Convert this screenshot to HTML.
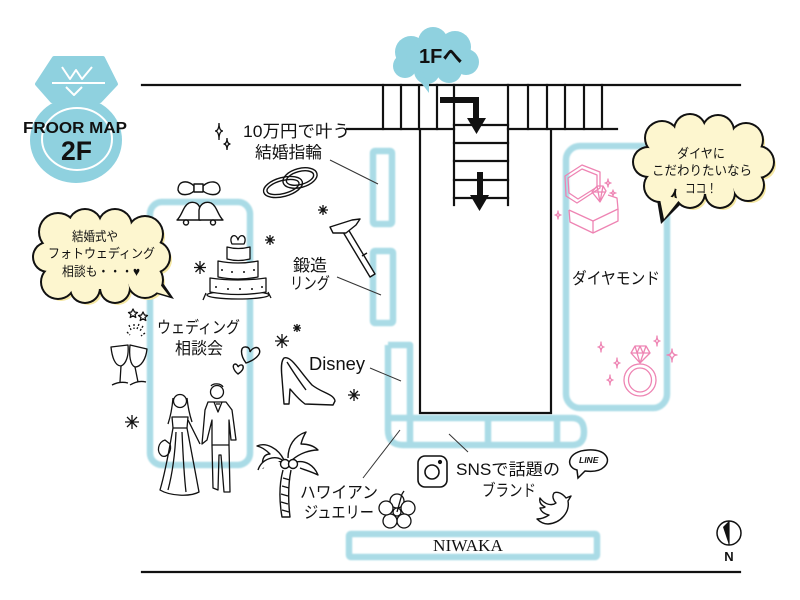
<!DOCTYPE html>
<html><head><meta charset="utf-8"><style>
html,body{margin:0;padding:0;background:#fff;}
svg{display:block;}
text{font-family:"Liberation Sans","Noto Sans CJK JP",sans-serif;fill:#111;}
</style></head><body>
<svg width="800" height="600" viewBox="0 0 800 600" xmlns="http://www.w3.org/2000/svg">
<defs>
<filter id="bl" x="-10%" y="-10%" width="120%" height="120%"><feGaussianBlur stdDeviation="0.9"/></filter>
</defs>
<rect width="800" height="600" fill="#fff"/>

<!-- Blue store outlines -->
<g fill="none" stroke="#a6dae5" stroke-width="6.5" filter="url(#bl)" stroke-linejoin="round" opacity="0.95">
 <rect x="150" y="202" width="100" height="263" rx="12"/>
 <rect x="566" y="146" width="101" height="262" rx="14"/>
 <rect x="373" y="151" width="19" height="73" rx="2"/>
 <rect x="373" y="251" width="20" height="72" rx="2"/>
 <path d="M388,345 H410 V445 M388,345 V430 Q388,445 403,445 H572 Q584,445 584,432 Q584,418 572,418 H388 M488,418 V445 M557,418 V445"/>
 <rect x="349" y="534" width="248" height="23" rx="2"/>
</g>

<!-- Building lines -->
<g stroke="#111" stroke-width="2.2" fill="none" stroke-linecap="square">
 <line x1="142" y1="85" x2="740" y2="85"/>
 <line x1="142" y1="572" x2="740" y2="572"/>
 <line x1="347" y1="129" x2="454" y2="129"/>
 <line x1="508" y1="129" x2="617" y2="129"/>
 <line x1="383" y1="85" x2="383" y2="129"/>
 <line x1="401" y1="85" x2="401" y2="129"/>
 <line x1="419" y1="85" x2="419" y2="129"/>
 <line x1="437" y1="85" x2="437" y2="129"/>
 <line x1="528" y1="85" x2="528" y2="129"/>
 <line x1="547" y1="85" x2="547" y2="129"/>
 <line x1="565" y1="85" x2="565" y2="129"/>
 <line x1="584" y1="85" x2="584" y2="129"/>
 <line x1="602" y1="85" x2="602" y2="129"/>
 <line x1="454" y1="85" x2="454" y2="205"/>
 <line x1="508" y1="85" x2="508" y2="205"/>
 <line x1="454" y1="125" x2="508" y2="125"/>
 <line x1="454" y1="143" x2="508" y2="143"/>
 <line x1="454" y1="161" x2="508" y2="161"/>
 <line x1="454" y1="180" x2="508" y2="180"/>
 <line x1="454" y1="198" x2="508" y2="198"/>
 <path d="M420,130 V413 H551 V130"/>
</g>

<!-- Arrows -->
<g fill="#111" stroke="none">
 <rect x="440" y="97" width="39" height="6"/>
 <rect x="473" y="97" width="6" height="22"/>
 <polygon points="467,118 486,118 476.5,134"/>
 <rect x="477" y="172" width="6" height="24"/>
 <polygon points="470,195 489,195 479.5,211"/>
</g>

<!-- 1F bubble -->
<g fill="#8fd1df">
 <circle cx="411" cy="52" r="16"/><circle cx="433" cy="42" r="15"/><circle cx="455" cy="47" r="16"/>
 <circle cx="466" cy="62" r="13"/><circle cx="449" cy="70" r="13"/><circle cx="427" cy="71" r="13"/>
 <circle cx="405" cy="66" r="12"/><ellipse cx="436" cy="57" rx="30" ry="17"/>
 <polygon points="416,76 429,79 429,93"/>
</g>
<text x="419" y="63" font-size="20" font-weight="bold">1Fへ</text>

<!-- Logo -->
<g>
 <polygon points="54,58 103,58 116,84 100,101 52,101 37,84" fill="#8fd1df" stroke="#8fd1df" stroke-width="4" stroke-linejoin="round"/>
 <ellipse cx="76" cy="140" rx="46" ry="43" fill="#8fd1df"/>
 <g stroke="#fff" stroke-width="2" fill="none" stroke-linejoin="round">
  <line x1="52" y1="83" x2="105" y2="83"/>
  <polyline points="62,67 70,79 76,70 82,79 92,67"/>
  <polyline points="66,87 74,95 82,87"/>
  <ellipse cx="77" cy="139" rx="35" ry="31"/>
 </g>
 <text x="23" y="133" font-size="16" font-weight="bold" textLength="104" lengthAdjust="spacingAndGlyphs">FROOR MAP</text>
 <text x="61" y="160" font-size="27" font-weight="bold" textLength="31" lengthAdjust="spacingAndGlyphs">2F</text>
</g>

<!-- Left yellow bubble -->
<g transform="translate(3,3)" fill="#f5e7a2">
 <circle cx="58" cy="232" r="18"/><circle cx="85" cy="226" r="16"/><circle cx="115" cy="226" r="16"/>
 <circle cx="145" cy="234" r="17"/><circle cx="154" cy="257" r="15"/><circle cx="145" cy="280" r="17"/>
 <circle cx="115" cy="288" r="14"/><circle cx="85" cy="288" r="14"/><circle cx="58" cy="282" r="16"/>
 <circle cx="48" cy="257" r="14"/>
</g>
<g fill="#111">
 <circle cx="58" cy="232" r="20"/><circle cx="85" cy="226" r="18"/><circle cx="115" cy="226" r="18"/>
 <circle cx="145" cy="234" r="19"/><circle cx="154" cy="257" r="17"/><circle cx="145" cy="280" r="19"/>
 <circle cx="115" cy="288" r="16"/><circle cx="85" cy="288" r="16"/><circle cx="58" cy="282" r="18"/>
 <circle cx="48" cy="257" r="16"/>
 <polygon points="140,289 161,280 174,299"/>
</g>
<g fill="#fdf6cf">
 <circle cx="58" cy="232" r="18"/><circle cx="85" cy="226" r="16"/><circle cx="115" cy="226" r="16"/>
 <circle cx="145" cy="234" r="17"/><circle cx="154" cy="257" r="15"/><circle cx="145" cy="280" r="17"/>
 <circle cx="115" cy="288" r="14"/><circle cx="85" cy="288" r="14"/><circle cx="58" cy="282" r="16"/>
 <circle cx="48" cy="257" r="14"/>
 <ellipse cx="100" cy="257" rx="52" ry="32"/>
 <polygon points="142,288 159,283 169,296"/>
</g>
<g font-size="13">
 <text x="72" y="241" textLength="46" lengthAdjust="spacingAndGlyphs">結婚式や</text>
 <text x="48" y="258" textLength="107" lengthAdjust="spacingAndGlyphs">フォトウェディング</text>
 <text x="62" y="276" textLength="78" lengthAdjust="spacingAndGlyphs">相談も・・・♥</text>
</g>

<!-- Right yellow bubble -->
<g transform="translate(3,3)" fill="#f5e7a2">
 <circle cx="662" cy="138" r="16"/><circle cx="690" cy="130" r="15"/><circle cx="718" cy="131" r="15"/>
 <circle cx="746" cy="140" r="16"/><circle cx="758" cy="162" r="15"/><circle cx="748" cy="185" r="15"/>
 <circle cx="720" cy="193" r="14"/><circle cx="690" cy="193" r="14"/><circle cx="660" cy="186" r="15"/>
 <circle cx="648" cy="162" r="14"/>
</g>
<g fill="#111">
 <circle cx="662" cy="138" r="18"/><circle cx="690" cy="130" r="17"/><circle cx="718" cy="131" r="17"/>
 <circle cx="746" cy="140" r="18"/><circle cx="758" cy="162" r="17"/><circle cx="748" cy="185" r="17"/>
 <circle cx="720" cy="193" r="16"/><circle cx="690" cy="193" r="16"/><circle cx="660" cy="186" r="17"/>
 <circle cx="648" cy="162" r="16"/>
 <polygon points="656,194 684,201 661,224"/>
</g>
<g fill="#fdf6cf">
 <circle cx="662" cy="138" r="16"/><circle cx="690" cy="130" r="15"/><circle cx="718" cy="131" r="15"/>
 <circle cx="746" cy="140" r="16"/><circle cx="758" cy="162" r="15"/><circle cx="748" cy="185" r="15"/>
 <circle cx="720" cy="193" r="14"/><circle cx="690" cy="193" r="14"/><circle cx="660" cy="186" r="15"/>
 <circle cx="648" cy="162" r="14"/>
 <ellipse cx="704" cy="162" rx="52" ry="32"/>
 <polygon points="659,194 680,199 664,219"/>
</g>
<g font-size="13">
 <text x="677" y="158" textLength="48" lengthAdjust="spacingAndGlyphs">ダイヤに</text>
 <text x="652" y="175" textLength="100" lengthAdjust="spacingAndGlyphs">こだわりたいなら</text>
 <text x="685" y="193" textLength="32" lengthAdjust="spacingAndGlyphs">ココ！</text>
</g>

<!-- Labels -->
<g font-size="16.5">
 <text x="243" y="137" font-size="17" textLength="107" lengthAdjust="spacingAndGlyphs">10万円で叶う</text>
 <text x="255" y="158" textLength="67" lengthAdjust="spacingAndGlyphs">結婚指輪</text>
 <text x="293" y="271" textLength="34" lengthAdjust="spacingAndGlyphs">鍛造</text>
 <text x="290" y="289" textLength="40" lengthAdjust="spacingAndGlyphs">リング</text>
 <text x="309" y="370" font-size="18" textLength="56" lengthAdjust="spacingAndGlyphs">Disney</text>
 <text x="157" y="333" textLength="83" lengthAdjust="spacingAndGlyphs">ウェディング</text>
 <text x="175" y="354" textLength="48" lengthAdjust="spacingAndGlyphs">相談会</text>
 <text x="572" y="284" textLength="88" lengthAdjust="spacingAndGlyphs">ダイヤモンド</text>
 <text x="456" y="475" textLength="104" lengthAdjust="spacingAndGlyphs">SNSで話題の</text>
 <text x="482" y="496" textLength="54" lengthAdjust="spacingAndGlyphs">ブランド</text>
 <text x="300" y="498" textLength="78" lengthAdjust="spacingAndGlyphs">ハワイアン</text>
 <text x="304" y="518" textLength="70" lengthAdjust="spacingAndGlyphs">ジュエリー</text>
</g>
<text x="433" y="551" font-size="17" style="font-family:'Liberation Serif',serif" textLength="70" lengthAdjust="spacingAndGlyphs">NIWAKA</text>

<!-- Leader lines -->
<g stroke="#333" stroke-width="1">
 <line x1="330" y1="160" x2="378" y2="184"/>
 <line x1="337" y1="277" x2="381" y2="295"/>
 <line x1="370" y1="368" x2="401" y2="381"/>
 <line x1="400" y1="430" x2="363" y2="478"/>
 <line x1="449" y1="434" x2="468" y2="452"/>
</g>

<!-- Sparkles (outline 4-point) -->
<g fill="none" stroke="#111" stroke-width="1.3">
 <path d="M219,123 Q219,131 223,131 Q219,131 219,140 Q219,131 215,131 Q219,131 219,123 Z"/>
 <path d="M227,138 Q227,144 230.5,144 Q227,144 227,150 Q227,144 223.5,144 Q227,144 227,138 Z"/>
</g>

<!-- Asterisk stars -->
<g stroke="#111" stroke-width="1.3">
 <path d="M200,261 V274 M194,267.5 H206 M195.5,263 L204.5,272 M204.5,263 L195.5,272"/>
 <path d="M270,235 V245 M265,240 H275 M266.5,236.5 L273.5,243.5 M273.5,236.5 L266.5,243.5"/>
 <path d="M323,205 V215 M318,210 H328 M319.5,206.5 L326.5,213.5 M326.5,206.5 L319.5,213.5"/>
 <path d="M297,324 V332 M293,328 H301 M294,325 L300,331 M300,325 L294,331"/>
 <path d="M282,334 V348 M275,341 H289 M277,336 L287,346 M287,336 L277,346"/>
 <path d="M354,389 V401 M348,395 H360 M350,391 L358,399 M358,391 L350,399"/>
 <path d="M132,415 V429 M125,422 H139 M127,417 L137,427 M137,417 L127,427"/>
</g>

<!-- Bow & bells -->
<g stroke="#111" stroke-width="1.4" fill="#fff" stroke-linejoin="round">
 <path d="M194,186 C188,180 178,180 178,190 C180,197 190,195 194,191 Z"/>
 <path d="M203,186 C209,180 220,180 220,190 C218,197 208,195 203,191 Z"/>
 <rect x="194" y="184" width="9" height="8"/>
 <path d="M177,220 C182,216 183,206 189,203 C195,201 200,204 200,210 L201,220 Z"/>
 <path d="M199,220 L199,210 C200,204 205,201 211,203 C217,206 218,216 223,220 Z"/>
 <circle cx="186" cy="222.5" r="2.5"/><circle cx="213" cy="222.5" r="2.5"/>
</g>

<!-- Cake -->
<g stroke="#111" stroke-width="1.3" fill="#fff" stroke-linejoin="round">
 <ellipse cx="238" cy="295" rx="31" ry="4"/>
 <path d="M210,278 V292 Q238,297 266,292 V278 Q238,282 210,278 Z"/>
 <path d="M218,261 V277 Q238,281 258,277 V261 Q238,265 218,261 Z"/>
 <path d="M227,247 V259 Q238,262 250,259 V247 Q238,250 227,247 Z"/>
 <path d="M232,244 C228,236 236,232 238,240 C240,232 248,236 244,244 Z"/>
 <path d="M206,293 L203,300 M268,292 L271,298"/>
 <g fill="#111" stroke="none">
  <circle cx="222" cy="270" r="1"/><circle cx="232" cy="272" r="1"/><circle cx="244" cy="272" r="1"/><circle cx="254" cy="270" r="1"/>
  <circle cx="216" cy="287" r="1"/><circle cx="228" cy="289" r="1"/><circle cx="240" cy="289" r="1"/><circle cx="252" cy="289" r="1"/><circle cx="262" cy="287" r="1"/>
 </g>
</g>

<!-- Rings -->
<g stroke="#111" stroke-width="1.4" fill="none">
 <ellipse cx="283" cy="187" rx="20" ry="9.5" transform="rotate(-15 283 187)"/>
 <ellipse cx="283" cy="187" rx="16.5" ry="6.5" transform="rotate(-15 283 187)"/>
 <ellipse cx="300" cy="178" rx="17.5" ry="9.5" transform="rotate(-15 300 178)"/>
 <ellipse cx="300" cy="178" rx="14" ry="6.5" transform="rotate(-15 300 178)"/>
</g>

<!-- Hammer -->
<g stroke="#111" stroke-width="1.4" fill="#fff" stroke-linejoin="round">
 <polygon points="343,232 348,229 375,274 370,277"/>
 <polygon points="330,227 352,220 360,219 356,225 346,233 333,233"/>
 <line x1="362" y1="256" x2="367" y2="253"/>
</g>

<!-- Champagne glasses -->
<g stroke="#111" stroke-width="1.3" fill="none" stroke-linejoin="round">
 <path d="M111,347 L128,345 C129,356 126,364 121,366 C115,366 112,357 111,347 Z"/>
 <path d="M121,366 L120,382 M112,385 Q120,381 128,383"/>
 <path d="M130,345 L147,349 C146,359 141,367 135,367 C130,365 129,355 130,345 Z"/>
 <path d="M135,367 L138,382 M130,385 Q138,380 146,382"/>
 <path d="M129,325 L131,330 M134,324 L134,329 M139,324 L137,329 M143,326 L140,331 M127,332 L130,335 M145,333 L141,336" stroke-dasharray="2 1.5"/>
 <path d="M133,309 L134.5,312 L137.5,312.5 L135,314.5 L135.8,317.5 L133,315.8 L130.2,317.5 L131,314.5 L128.5,312.5 L131.5,312 Z"/>
 <path d="M143,312 L144.5,315 L147.5,315.5 L145,317.5 L145.8,320.5 L143,318.8 L140.2,320.5 L141,317.5 L138.5,315.5 L141.5,315 Z"/>
</g>

<!-- Hearts -->
<g stroke="#111" stroke-width="1.4" fill="none">
 <path d="M246,363 C240,355 240,346 246,347 C249,347 250,350 250,352 C252,348 257,346 259,349 C262,354 255,360 246,363 Z"/>
 <path d="M238,374 C233,370 232,365 235,364 C237,364 238,366 238,367 C239,365 242,364 243,366 C244,369 241,372 238,374 Z"/>
</g>

<!-- Shoe -->
<g stroke="#111" stroke-width="1.4" fill="#fff" stroke-linejoin="round">
 <path d="M284,358 C291,355 300,372 312,385 C322,393 334,394 335,401 L333,405 L305,404 C297,398 293,392 290,389 L289,404 L284,404 L282,378 C281,368 281,361 284,358 Z"/>
 <path d="M287,362 C292,370 300,382 306,390"/>
</g>

<!-- Couple -->
<g stroke="#111" stroke-width="1.3" fill="none" stroke-linejoin="round">
 <circle cx="180" cy="401" r="6.5"/>
 <path d="M173,398 C172,410 170,418 168,424 M187,398 C188,408 190,416 192,422"/>
 <path d="M172,417 L188,417 L187,428 L173,428 Z"/>
 <path d="M173,428 C170,445 166,470 160,490 C170,496 190,497 199,492 C195,470 190,445 187,428"/>
 <path d="M176,432 C175,455 172,475 168,490 M182,432 C183,455 184,475 186,492"/>
 <path d="M165,440 C158,442 156,452 162,456 C168,458 172,450 170,444 Z"/>
 <path d="M188,420 L200,444"/>
 <circle cx="217" cy="392" r="6.5"/>
 <path d="M211,386 C213,383 221,383 223,387"/>
 <path d="M208,402 L226,402 L232,410 L236,440 L231,440 L229,420 L229,445 L212,445 L212,420 L207,440 L202,444 L205,410 Z"/>
 <path d="M214,402 L218,412 L222,402 M216,404 L220,404"/>
 <path d="M212,445 L213,488 L218,490 L219,455 L221,455 L224,492 L230,492 L229,445"/>
</g>

<!-- Palm -->
<g stroke="#111" stroke-width="1.4" fill="#fff" stroke-linejoin="round">
 <path d="M283,470 C279,485 279,500 282,517 L290,517 C288,500 288,485 291,470"/>
 <path d="M283,478 L290,480 M282,486 L289,488 M281,494 L288,496 M281,502 L288,504 M282,510 L289,512"/>
 <path d="M284,460 C278,448 266,442 257,446 C262,447 266,450 270,454 C265,454 261,458 263,468 C267,461 275,458 283,463"/>
 <path d="M288,458 C288,446 294,436 306,432 C303,437 302,440 301,444 C308,444 314,446 318,450 C310,450 300,453 292,460"/>
 <path d="M296,462 C305,460 314,465 318,475 C312,472 305,470 300,468"/>
 <path d="M282,460 C276,455 262,458 258,470"/>
 <circle cx="285" cy="464" r="4.5"/><circle cx="293" cy="464" r="4.5"/>
</g>

<!-- Hibiscus -->
<g stroke="#111" stroke-width="1.3" fill="#fff">
 <circle cx="397" cy="501" r="7"/><circle cx="408" cy="508" r="7"/><circle cx="404" cy="521" r="7"/>
 <circle cx="390" cy="521" r="7"/><circle cx="386" cy="508" r="7"/>
 <circle cx="397" cy="512" r="4"/>
 <path d="M397,512 L402,494 M402,494 L404,491"/>
</g>

<!-- Instagram -->
<g stroke="#111" stroke-width="1.6" fill="none">
 <rect x="418" y="456" width="29" height="31" rx="7"/>
 <circle cx="432" cy="472" r="7"/>
 <circle cx="440" cy="462" r="1.3" fill="#111"/>
</g>

<!-- LINE bubble -->
<g stroke="#111" stroke-width="1.5" fill="#fff">
 <path d="M577,470 C565,467 567,451 588,450 C606,449 612,460 604,467 C600,471 593,472 585,471 L578,478 Z"/>
</g>
<text x="579" y="463" font-size="8.5" font-weight="bold" font-style="italic">LINE</text>

<!-- Twitter bird -->
<g stroke="#111" stroke-width="1.4" fill="#fff" stroke-linejoin="round">
 <path d="M540,498 C545,505 552,506 556,503 C553,500 552,496 554,493 C558,491 563,494 566,498 L571,496 L568,501 C570,512 561,523 548,524 C543,524 540,522 537,519 C542,519 546,517 549,515 C544,514 541,511 540,508 C542,508 544,508 545,507 C541,505 539,502 540,498 Z"/>
</g>

<!-- Compass -->
<g>
 <circle cx="729" cy="533" r="12" stroke="#111" stroke-width="1.5" fill="#fff"/>
 <polygon points="729,521 723,527 729,545" fill="#111"/>
 <line x1="729" y1="521" x2="729" y2="545" stroke="#111" stroke-width="1.2"/>
 <text x="729" y="561" font-size="13" font-weight="bold" text-anchor="middle">N</text>
</g>

<!-- Pink jewel box -->
<g stroke="#ee84b3" stroke-width="1.3" fill="none" stroke-linejoin="round">
 <path d="M565,176 L582,165 L600,172 L600,188 L577,203 L566,196 Z"/>
 <path d="M568,178 L582,169 L597,175 L597,187 L578,199 L569,193 Z"/>
 <path d="M569,210 L593,221 L618,209 L617,198 L608,195"/>
 <path d="M569,210 L570,222 L593,233 L618,221 L618,209"/>
 <path d="M593,221 L593,233"/>
 <path d="M592,192 L597,186 L603,186 L606,191 L600,202 Z M592,192 H606 M597,186 L600,202 M603,186 L600,202"/>
 <path d="M608,179 Q608,183 611,183 Q608,183 608,187 Q608,183 605,183 Q608,183 608,179 Z"/>
 <path d="M613,190 Q613,193 616,193 Q613,193 613,196 Q613,193 610,193 Q613,193 613,190 Z"/>
 <path d="M558,211 Q558,215 561,215 Q558,215 558,219 Q558,215 555,215 Q558,215 558,211 Z"/>
</g>

<!-- Pink diamond ring -->
<g stroke="#ee84b3" stroke-width="1.3" fill="none" stroke-linejoin="round">
 <path d="M631,353 L635,346 L646,346 L650,353 L640,363 Z M631,353 H650 M635,346 L640,363 M646,346 L640,363 M640,346 L637,353 M640,346 L643,353"/>
 <ellipse cx="640" cy="380" rx="16" ry="16"/>
 <ellipse cx="640" cy="380" rx="11.5" ry="12"/>
 <path d="M601,342 Q601,347 604,347 Q601,347 601,352 Q601,347 598,347 Q601,347 601,342 Z"/>
 <path d="M617,358 Q617,363 620,363 Q617,363 617,368 Q617,363 614,363 Q617,363 617,358 Z"/>
 <path d="M610,375 Q610,380 613,380 Q610,380 610,385 Q610,380 607,380 Q610,380 610,375 Z"/>
 <path d="M657,336 Q657,341 660,341 Q657,341 657,346 Q657,341 654,341 Q657,341 657,336 Z"/>
 <path d="M672,349 Q672,355 677,355 Q672,355 672,362 Q672,355 667,355 Q672,355 672,349 Z"/>
</g>

</svg>
</body></html>
